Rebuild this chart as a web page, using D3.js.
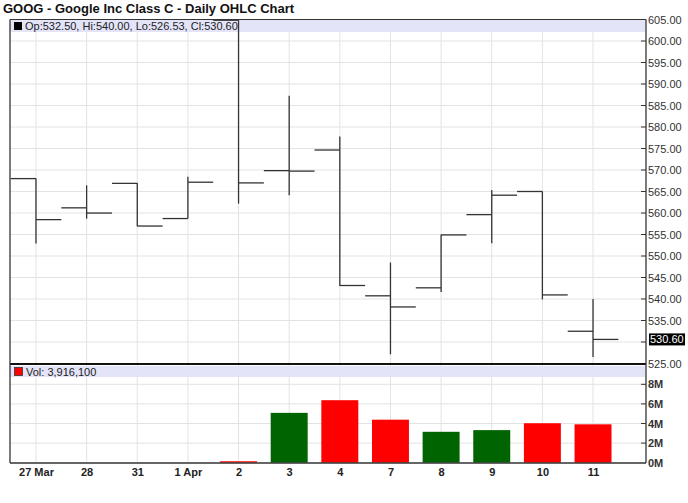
<!DOCTYPE html>
<html><head><meta charset="utf-8">
<script src="https://cdn.jsdelivr.net/npm/d3@7"></script>
<style>body{margin:0;background:#fff}svg{display:block}text{font-family:Arial,"Liberation Sans",sans-serif}</style>
</head><body>
<script>
const dates = ["27 Mar","28","31","1 Apr","2","3","4","7","8","9","10","11"];
const opens  = [568.00,561.20,566.89,558.71,604.83,569.85,574.65,540.74,542.60,559.62,565.00,532.50];
const highs  = [568.00,566.43,567.00,568.45,604.83,587.28,577.77,548.48,555.00,565.37,565.00,540.00];
const lows   = [552.92,558.67,556.93,558.71,562.19,564.13,543.00,527.15,541.61,552.95,539.90,526.53];
const closes = [558.46,559.99,556.97,567.16,567.00,569.74,543.14,538.15,554.90,564.14,540.95,530.60];
const volumes= [0,0,0,0,146700,5085200,6377600,4389600,3152400,3324700,4027700,3916100];
const priceTicks = [525,530,535,540,545,550,555,560,565,570,575,580,585,590,595,600,605];
const volTicks = [0,2e6,4e6,6e6,8e6];

const W=688,H=503, L=10, R=646;
const svg=d3.select("body").append("svg").attr("width",W).attr("height",H);
const x=d3.scaleLinear().domain([-0.513,12.046]).range([L,R]);
const yP=d3.scaleLinear().domain([525,605]).range([363.5,19.5]);
const yV=d3.scaleLinear().domain([0,10e6]).range([462.7,364.7]);
const grid="#e3e3e3", lav="#e4e4f8", ink="#333";
const FF='Arial,"Liberation Sans",sans-serif';

// title
svg.append("text").attr("x",3).attr("y",13).attr("font-size",13).attr("font-weight","bold").attr("fill","#111")
  .text("GOOG - Google Inc Class C - Daily OHLC Chart");

// price panel gridlines
const gP=svg.append("g");
gP.selectAll("line.h").data(priceTicks.filter(d=>d>525&&d<605)).join("line")
  .attr("x1",L).attr("x2",R).attr("y1",d=>yP(d)).attr("y2",d=>yP(d)).attr("stroke",grid);
svg.append("rect").attr("x",L).attr("y",yP(605)).attr("width",R-L-1).attr("height",12.5).attr("fill",lav);
gP.selectAll("line.v").data(dates).join("line")
  .attr("x1",(d,i)=>x(i)).attr("x2",(d,i)=>x(i)).attr("y1",yP(605)).attr("y2",363.5).attr("stroke",grid);

// volume gridlines
const gV=svg.append("g");
svg.append("rect").attr("x",L).attr("y",366).attr("width",R-L-1).attr("height",11).attr("fill",lav);
gV.selectAll("line.h").data(volTicks.filter(d=>d>0)).join("line")
  .attr("x1",L).attr("x2",R).attr("y1",d=>yV(d)).attr("y2",d=>yV(d)).attr("stroke",grid);
gV.selectAll("line.v").data(dates).join("line")
  .attr("x1",(d,i)=>x(i)).attr("x2",(d,i)=>x(i)).attr("y1",365).attr("y2",462.7).attr("stroke",grid);

// OHLC
const bars=svg.append("g").attr("stroke",ink).attr("stroke-width",1.3);
dates.forEach((d,i)=>{
  bars.append("line").attr("x1",x(i)).attr("x2",x(i)).attr("y1",yP(highs[i])).attr("y2",yP(lows[i]));
  bars.append("line").attr("x1",Math.max(L,x(i-0.5))).attr("x2",x(i)).attr("y1",yP(opens[i])).attr("y2",yP(opens[i]));
  bars.append("line").attr("x1",x(i)).attr("x2",x(i+0.5)).attr("y1",yP(closes[i])).attr("y2",yP(closes[i]));
});

// volume bars
const bw=(x(1)-x(0))*0.73;
svg.append("g").selectAll("rect").data(volumes).join("rect")
  .attr("x",(d,i)=>x(i)-bw/2).attr("width",bw)
  .attr("y",d=>yV(d)).attr("height",d=>yV(0)-yV(d))
  .attr("fill",(d,i)=> i>0 && closes[i]>=closes[i-1] ? "#006400" : "#ff0000");

// frames
svg.append("line").attr("x1",L).attr("x2",R).attr("y1",19.5).attr("y2",19.5).attr("stroke",ink).attr("stroke-width",1.2);
svg.append("line").attr("x1",L).attr("x2",R).attr("y1",364).attr("y2",364).attr("stroke","#111").attr("stroke-width",2);
svg.append("line").attr("x1",L).attr("x2",R).attr("y1",463).attr("y2",463).attr("stroke",ink).attr("stroke-width",1.3);
svg.append("line").attr("x1",L).attr("x2",L).attr("y1",19.5).attr("y2",463).attr("stroke",ink).attr("stroke-width",1.3);
svg.append("line").attr("x1",R).attr("x2",R).attr("y1",19.5).attr("y2",463).attr("stroke",ink).attr("stroke-width",1.3);

// price axis
const axP=d3.axisRight(yP).tickValues(priceTicks).tickSize(0).tickFormat(d=>d===530?"":d3.format(".2f")(d));
const gA=svg.append("g").attr("transform",`translate(${R+1},0)`).call(axP);
gA.select(".domain").remove();
gA.selectAll("text").attr("font-size",11).attr("fill","#333").attr("dx",-2).style("font-family",FF);
svg.append("g").selectAll("line").data(priceTicks.filter(d=>d>525&&d<605)).join("line")
  .attr("x1",R-5).attr("x2",R).attr("y1",d=>yP(d)).attr("y2",d=>yP(d)).attr("stroke",ink);
// close tag
const last=closes[closes.length-1];
svg.append("rect").attr("x",R+3).attr("y",yP(last)-6).attr("width",36).attr("height",12).attr("fill","#000");
svg.append("text").attr("x",R+4).attr("y",yP(last)+4).attr("font-size",11).attr("fill","#fff").text(d3.format(".2f")(last));

// volume axis
const axV=d3.axisRight(yV).tickValues(volTicks).tickSize(0).tickFormat(d=>(d/1e6)+"M");
const gB=svg.append("g").attr("transform",`translate(${R+1},0)`).call(axV);
gB.select(".domain").remove();
gB.selectAll("text").attr("font-size",11).attr("font-weight","bold").attr("fill","#333").attr("dx",-2).style("font-family",FF);
svg.append("g").selectAll("line").data(volTicks.filter(d=>d>0)).join("line")
  .attr("x1",R-5).attr("x2",R).attr("y1",d=>yV(d)).attr("y2",d=>yV(d)).attr("stroke",ink);

// x axis labels
const axX=d3.axisBottom(x).tickValues(d3.range(dates.length)).tickSize(0).tickFormat(i=>dates[i]);
const gX=svg.append("g").attr("transform","translate(0,463)").call(axX);
gX.select(".domain").remove();
gX.selectAll("text").attr("font-size",11).attr("font-weight","bold").attr("fill","#222").attr("dy","0.9em").style("font-family",FF);

// legends
svg.append("rect").attr("x",14).attr("y",22).attr("width",8).attr("height",8).attr("fill","#000");
svg.append("text").attr("x",25).attr("y",30).attr("font-size",11).attr("fill","#222")
  .text(`Op:${opens[11].toFixed(2)}, Hi:${highs[11].toFixed(2)}, Lo:${lows[11].toFixed(2)}, Cl:${closes[11].toFixed(2)}`);
svg.append("rect").attr("x",14.5).attr("y",367.5).attr("width",8).attr("height",8).attr("fill","#ff0000").attr("stroke","#333").attr("stroke-width",0.8);
svg.append("text").attr("x",26).attr("y",376).attr("font-size",11).attr("fill","#222")
  .text("Vol: "+d3.format(",")(volumes[11]));
</script>
</body></html>
